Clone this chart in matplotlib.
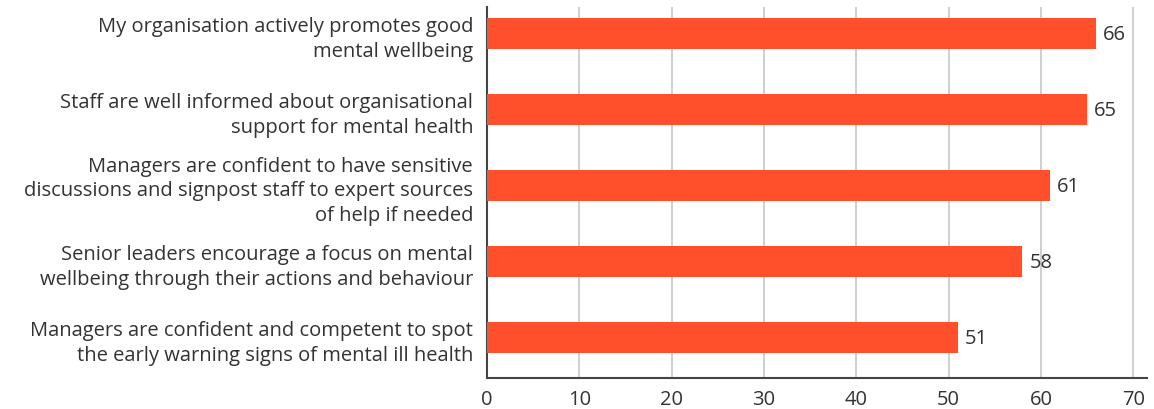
import matplotlib.pyplot as plt

# survey statements (top to bottom) and % agreeing
statements = [
    "My organisation actively promotes good\nmental wellbeing",
    "Staff are well informed about organisational\nsupport for mental health",
    "Managers are confident to have sensitive\ndiscussions and signpost staff to expert sources\nof help if needed",
    "Senior leaders encourage a focus on mental\nwellbeing through their actions and behaviour",
    "Managers are confident and competent to spot\nthe early warning signs of mental ill health",
]
values = [66, 65, 61, 58, 51]
xticks = [0, 10, 20, 30, 40, 50, 60, 70]

bar_color = "#FF4F2B"
text_color = "#333333"

plt.rcParams["font.family"] = ["Open Sans", "DejaVu Sans"]

fig = plt.figure(figsize=(11.54, 4.10), dpi=100)
ax = fig.add_axes([0.422, 0.0756, 0.572, 0.905])

pos = list(range(len(values)))
ax.barh(pos, values, height=0.41, color=bar_color, zorder=3)

for y, v in zip(pos, values):
    ax.text(v + 0.75, y, str(v), va="center", ha="left", fontsize=14.5, color=text_color)

ax.set_xlim(0, 71.5)
ax.set_ylim(4.533, -0.35)
ax.set_xticks(xticks)
ax.set_yticks(pos)
ax.set_yticklabels(statements, fontsize=14.5, color=text_color, linespacing=1.32)
ax.tick_params(axis="x", length=0, pad=8, labelsize=14.5, labelcolor=text_color)
ax.tick_params(axis="y", length=0, pad=10)

ax.grid(axis="x", color="#cccccc", linewidth=1.3, zorder=0)
for side in ["top", "right"]:
    ax.spines[side].set_visible(False)
for side in ["left", "bottom"]:
    ax.spines[side].set_color("#444444")
    ax.spines[side].set_linewidth(1.5)

fig.savefig("out.png", dpi=100)
